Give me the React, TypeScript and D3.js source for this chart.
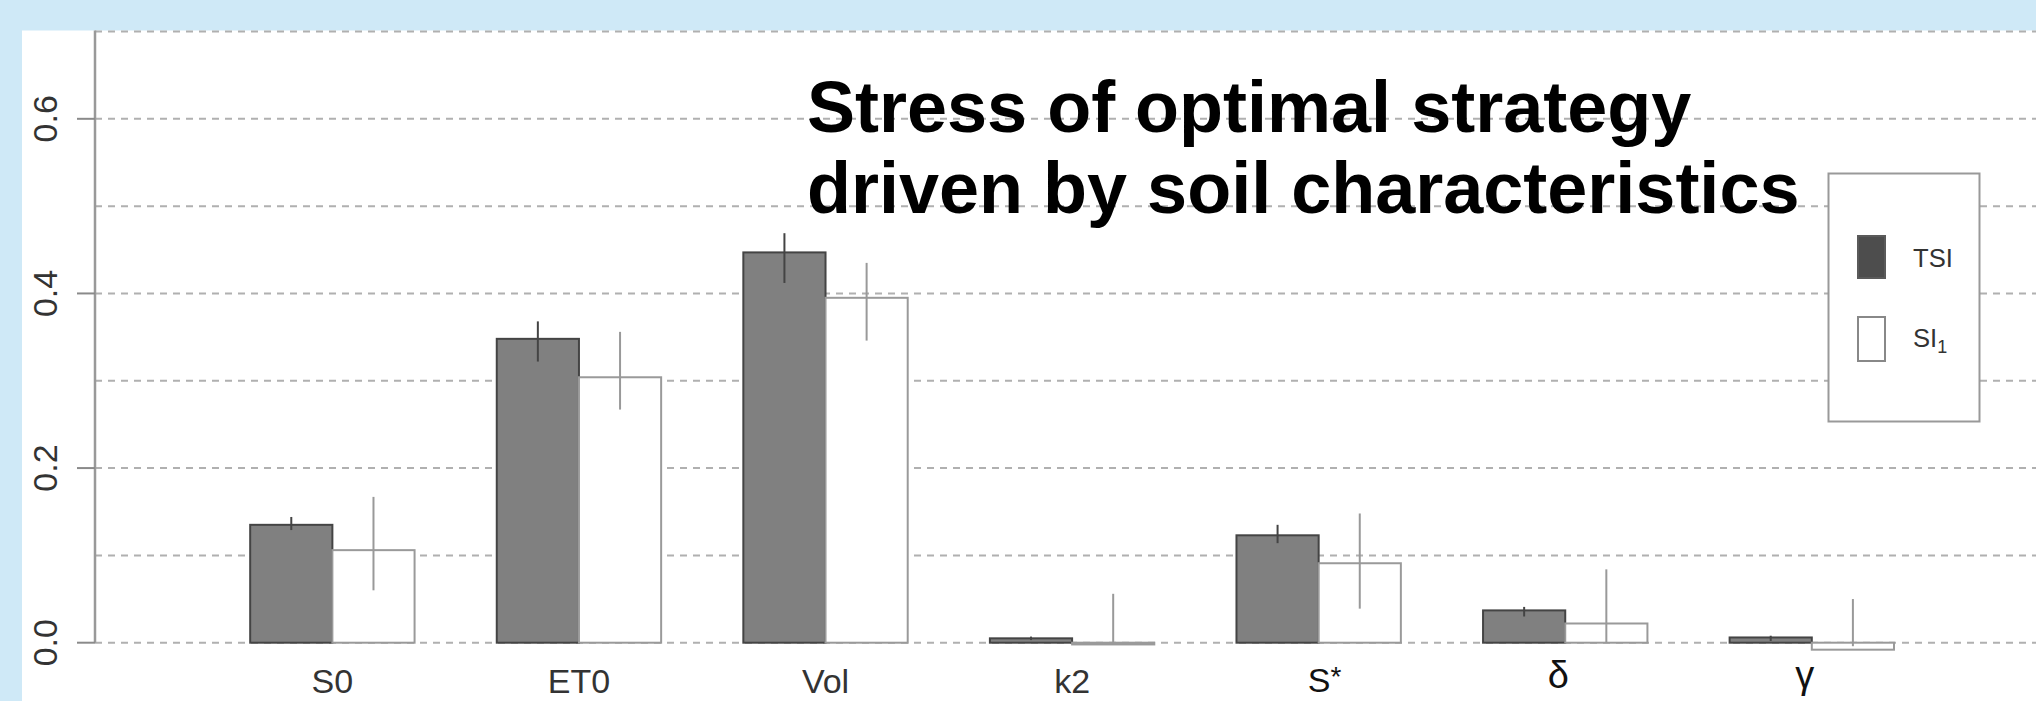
import React from "react";
import * as d3 from "d3";

// ---- data ----
const categories = ["S0", "ET0", "Vol", "k2", "S*", "δ", "γ"];
const seriesNames = ["TSI", "SI"];
const tsiValues = [0.135, 0.348, 0.447, 0.005, 0.123, 0.037, 0.006];
const tsiLow = [0.129, 0.322, 0.412, 0.003, 0.114, 0.030, 0.002];
const tsiHigh = [0.144, 0.368, 0.469, 0.007, 0.135, 0.041, 0.008];
const siValues = [0.106, 0.304, 0.395, -0.002, 0.091, 0.022, -0.008];
const siLow = [0.060, 0.267, 0.346, -0.002, 0.039, 0.0, -0.004];
const siHigh = [0.167, 0.356, 0.435, 0.056, 0.148, 0.084, 0.05];
const yTickValues = [0, 0.2, 0.4, 0.6];
const gridValues = [0, 0.1, 0.2, 0.3, 0.4, 0.5, 0.6, 0.7];
const titleLines = ["Stress of optimal strategy", "driven by soil characteristics"];
const legendLabels = ["TSI", "SI"];

const W = 2036;
const H = 701;
const FONT = "'Liberation Sans', Arial, Helvetica, sans-serif";

export default function App() {
  const y = d3.scaleLinear().domain([0, 0.7]).range([642.7, 31.5]);
  const x0 = d3
    .scaleBand<string>()
    .domain(categories)
    .range([168, 1894])
    .paddingInner(1 / 3)
    .paddingOuter(1 / 6)
    .align(1);
  const x1 = d3.scaleBand<string>().domain(seriesNames).range([0, x0.bandwidth()]);

  const axisX = 95;
  const series = [
    { key: "TSI", values: tsiValues, lo: tsiLow, hi: tsiHigh, fill: "#808080", stroke: "#444", err: "#444" },
    { key: "SI", values: siValues, lo: siLow, hi: siHigh, fill: "#ffffff", stroke: "#9a9a9a", err: "#999" },
  ];

  React.useEffect(() => {
    document.body.style.margin = "0";
  }, []);

  return (
    <svg width={W} height={H} style={{ position: "absolute", left: 0, top: 0, display: "block" }} fontFamily={FONT}>
      <rect x={0} y={0} width={W} height={H} fill="#cfe9f7" />
      <rect x={22} y={30.5} width={W - 22} height={H - 30.5} fill="#ffffff" />

      {/* grid lines */}
      {gridValues.map((g) => (
        <line
          key={"g" + g}
          x1={axisX}
          x2={W}
          y1={y(g)}
          y2={y(g)}
          stroke="#b0b0b0"
          strokeWidth={2}
          strokeDasharray="7,6"
        />
      ))}

      {/* y axis */}
      <line x1={axisX} x2={axisX} y1={30.5} y2={y(0)} stroke="#999" strokeWidth={2.5} />
      {yTickValues.map((t) => (
        <g key={"t" + t}>
          <line x1={77} x2={axisX} y1={y(t)} y2={y(t)} stroke="#8a8a8a" strokeWidth={2} />
          <text
            transform={`translate(57,${y(t)}) rotate(-90)`}
            textAnchor="middle"
            fontSize={34}
            fill="#333"
          >
            {t.toFixed(1)}
          </text>
        </g>
      ))}

      {/* bars */}
      {categories.map((c, i) => (
        <g key={c} transform={`translate(${x0(c)},0)`}>
          {series.map((s) => {
            const v = s.values[i];
            const top = y(Math.max(0, v));
            const bot = y(Math.min(0, v));
            return (
              <rect
                key={s.key}
                x={x1(s.key)}
                y={top}
                width={x1.bandwidth()}
                height={Math.max(bot - top, 0.5)}
                fill={s.fill}
                stroke={s.stroke}
                strokeWidth={2}
              />
            );
          })}
          {series.map((s) => {
            const cx = (x1(s.key) as number) + x1.bandwidth() / 2;
            return (
              <line
                key={"e" + s.key}
                x1={cx}
                x2={cx}
                y1={y(s.hi[i])}
                y2={y(s.lo[i])}
                stroke={s.err}
                strokeWidth={2}
              />
            );
          })}
        </g>
      ))}

      {/* x labels */}
      {categories.map((c) => {
        const cx = (x0(c) as number) + x0.bandwidth() / 2;
        if (c === "S*") {
          return (
            <text key={"l" + c} x={cx + 6} y={692} textAnchor="middle" fontSize={34} fill="#111">
              S<tspan fontSize={28} dy={-6}>*</tspan>
            </text>
          );
        }
        const greek = c === "δ" || c === "γ";
        return (
          <text
            key={"l" + c}
            x={cx - (greek ? 7 : 0)}
            y={greek ? 688 : 693}
            textAnchor="middle"
            fontSize={greek ? 38 : 34}
            fill={greek ? "#111" : "#333"}
          >
            {c}
          </text>
        );
      })}

      {/* title */}
      {titleLines.map((t, i) => (
        <text key={"ti" + i} x={807} y={131.7 + i * 81.6} fontSize={72} fontWeight="bold" fill="#000">
          {t}
        </text>
      ))}

      {/* legend */}
      <rect x={1828.5} y={173.5} width={151} height={248} fill="#fff" stroke="#999" strokeWidth={2} />
      <rect x={1858} y={236} width={27} height={42} fill="#4d4d4d" stroke="#5a5a5a" strokeWidth={2} />
      <rect x={1858} y={317} width={27} height={44} fill="#fff" stroke="#888" strokeWidth={2} />
      <text x={1913} y={266.7} fontSize={25.6} fill="#333">
        {legendLabels[0]}
      </text>
      <text x={1913} y={346.7} fontSize={25.6} fill="#333">
        {legendLabels[1]}
        <tspan fontSize={18} dy={6}>1</tspan>
      </text>
    </svg>
  );
}
